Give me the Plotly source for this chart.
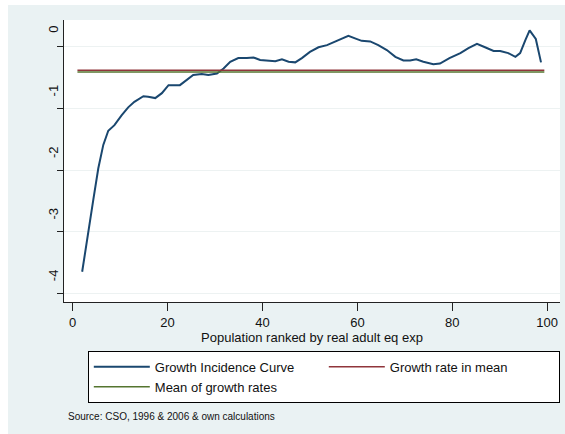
import plotly.graph_objects as go

# Growth incidence curve: percentile of the population vs. annualised growth rate
percentile = [2.0, 3.3, 4.35, 5.4, 6.45, 7.5, 8.8, 10.3, 11.7, 13.0, 14.9, 15.9, 17.4,
              18.8, 20.2, 22.6, 23.7, 25.4, 27.2, 28.6, 30.4, 31.8, 33.2, 34.9, 36.7,
              38.1, 39.5, 41.2, 42.7, 44.1, 45.5, 46.9, 48.3, 50.0, 51.8, 53.6, 54.9,
              56.4, 58.1, 59.5, 60.9, 62.7, 64.4, 66.2, 68.0, 69.7, 71.1, 72.4, 73.9,
              76.0, 77.4, 79.4, 81.7, 83.4, 85.2, 86.9, 88.7, 90.1, 91.8, 93.3, 94.3,
              95.4, 96.3, 97.6, 98.7]
growth = [-3.65, -2.97, -2.48, -1.97, -1.59, -1.36, -1.27, -1.11, -0.98, -0.89, -0.80,
          -0.81, -0.83, -0.75, -0.62, -0.62, -0.56, -0.455, -0.44, -0.455, -0.43, -0.35,
          -0.24, -0.18, -0.18, -0.17, -0.21, -0.22, -0.23, -0.20, -0.24, -0.25, -0.18,
          -0.08, -0.005, 0.03, 0.07, 0.125, 0.18, 0.14, 0.10, 0.09, 0.03, -0.05, -0.16,
          -0.22, -0.22, -0.20, -0.24, -0.28, -0.27, -0.18, -0.10, -0.02, 0.05, -0.005,
          -0.065, -0.065, -0.10, -0.16, -0.10, 0.11, 0.27, 0.13, -0.25]

line_span = [1.0, 99.4]
growth_in_mean = -0.378
mean_of_growth = -0.406

x_ticks = [0, 20, 40, 60, 80, 100]
y_ticks = [0, -1, -2, -3, -4]

FONT = "Liberation Sans, Arial, sans-serif"
BG = "#EAF2F3"

fig = go.Figure()
fig.add_trace(go.Scatter(x=percentile, y=growth, mode="lines",
                         name="Growth Incidence Curve",
                         line=dict(color="#1A476F", width=2)))
fig.add_trace(go.Scatter(x=line_span, y=[growth_in_mean] * 2, mode="lines",
                         name="Growth rate in mean",
                         line=dict(color="#90353B", width=1.5)))
fig.add_trace(go.Scatter(x=line_span, y=[mean_of_growth] * 2, mode="lines",
                         name="Mean of growth rates",
                         line=dict(color="#55752F", width=1.5)))

fig.update_layout(
    width=565, height=434,
    margin=dict(l=64, r=5, t=20, b=132),
    paper_bgcolor=BG, plot_bgcolor="white",
    font=dict(family=FONT, size=13, color="#111111"),
    showlegend=True,
    legend=dict(orientation="h", x=0.048, xanchor="left", y=-0.173, yanchor="top",
                bgcolor="white", bordercolor="black", borderwidth=1,
                entrywidth=164, itemwidth=56, font=dict(size=13), tracegroupgap=0,
                traceorder="normal"),
    xaxis=dict(range=[-1.83, 102.7], tickvals=x_ticks, ticks="outside", ticklen=8,
               tickcolor="#222", showline=True, linecolor="#222", linewidth=1,
               showgrid=False, zeroline=False,
               title=dict(text="Population ranked by real adult eq exp", standoff=4,
                          font=dict(size=13)),
               tickfont=dict(size=13)),
    yaxis=dict(range=[-4.141, 0.438], tickvals=y_ticks, ticktext=[str(v) for v in y_ticks],
               ticks="outside", ticklen=6, tickcolor="#222", tickangle=-90,
               ticklabelshift=-16, ticklabelstandoff=-6,
               showline=True, linecolor="#222", linewidth=1,
               showgrid=True, gridcolor="#EDF2F2", gridwidth=1, zeroline=False,
               tickfont=dict(size=13)),
    shapes=[
        dict(type="rect", xref="paper", yref="paper", x0=-0.13, x1=(8 - 64) / 496,
             y0=-0.5, y1=1.2, fillcolor="white", line=dict(width=0), layer="below"),
        dict(type="rect", xref="paper", yref="paper", x0=-0.13, x1=1.02,
             y0=(302 - 5) / 282, y1=1.2, fillcolor="white", line=dict(width=0),
             layer="below"),
    ],
    annotations=[
        dict(text="Source: CSO, 1996 & 2006 & own calculations", xref="paper", yref="paper",
             x=(66 - 64) / 496, y=(302 - 416) / 282, xanchor="left", yanchor="middle",
             showarrow=False, font=dict(size=10, color="#111111")),
    ],
)

fig.write_html("out.html")
